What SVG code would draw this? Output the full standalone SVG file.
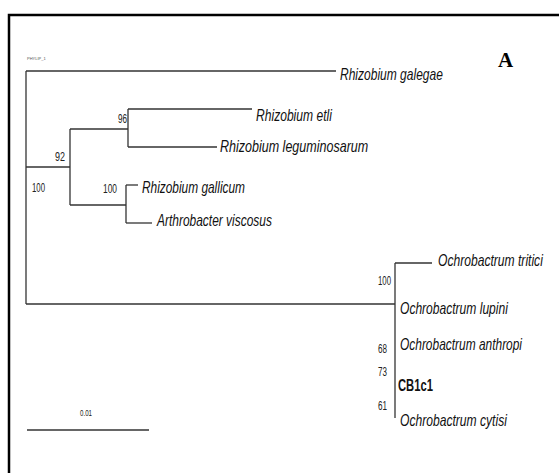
<svg xmlns="http://www.w3.org/2000/svg" width="559" height="473" viewBox="0 0 559 473">
<style>
.b{stroke:#333;stroke-width:1.3;fill:none}
.sp{font-family:"Liberation Sans",Arial,sans-serif;font-style:italic;font-size:16px;fill:#111}
.bs{font-family:"Liberation Sans",Arial,sans-serif;font-size:12px;fill:#222}
</style>
<rect width="559" height="473" fill="#fff"/>
<path d="M9,473 V15 H559" stroke="#000" stroke-width="2.5" fill="none"/>
<text x="27" y="60" font-family="Liberation Sans, sans-serif" font-size="4" fill="#555">PHYLIP_1</text>
<text x="498" y="67" font-family="Liberation Serif, serif" font-weight="bold" font-size="21" fill="#000">A</text>
<g id="connectors">
<path class="b" d="M26,71 V304"/>
<path class="b" d="M26,71 H336"/>
<path class="b" d="M26,167 H70"/>
<path class="b" d="M70,129 V205"/>
<path class="b" d="M70,129 H128"/>
<path class="b" d="M128,109 V147"/>
<path class="b" d="M128,109 H252"/>
<path class="b" d="M128,147 H217"/>
<path class="b" d="M70,205 H126"/>
<path class="b" d="M126,185 V223"/>
<path class="b" d="M126,185 H138"/>
<path class="b" d="M126,223 H152"/>
<path class="b" d="M26,304 H395"/>
<path class="b" d="M395,263 V418"/>
<path class="b" d="M395,263 H432"/>
</g>
<g id="n-galegae" transform="translate(340,80) scale(0.752,1)"><text class="sp">Rhizobium galegae</text></g>
<g id="n-etli" transform="translate(256,121) scale(0.756,1)"><text class="sp">Rhizobium etli</text></g>
<g id="n-leguminosarum" transform="translate(220,152) scale(0.783,1)"><text class="sp">Rhizobium leguminosarum</text></g>
<g id="n-gallicum" transform="translate(142,193) scale(0.743,1)"><text class="sp">Rhizobium gallicum</text></g>
<g id="n-arthrobacter" transform="translate(157,226) scale(0.748,1)"><text class="sp">Arthrobacter viscosus</text></g>
<g id="n-tritici" transform="translate(438,266) scale(0.757,1)"><text class="sp">Ochrobactrum tritici</text></g>
<g id="n-lupini" transform="translate(400,314) scale(0.754,1)"><text class="sp">Ochrobactrum lupini</text></g>
<g id="n-anthropi" transform="translate(400,350) scale(0.746,1)"><text class="sp">Ochrobactrum anthropi</text></g>
<g id="n-cb1c1" transform="translate(398,391) scale(0.66,1)"><text font-family="Liberation Sans, Arial, sans-serif" font-weight="bold" font-size="17" fill="#111">CB1c1</text></g>
<g id="n-cytisi" transform="translate(400,426) scale(0.757,1)"><text class="sp">Ochrobactrum cytisi</text></g>
<g id="bootstrap">
<text class="bs" x="32" y="192" textLength="13" lengthAdjust="spacingAndGlyphs">100</text>
<text class="bs" x="55" y="161" textLength="10" lengthAdjust="spacingAndGlyphs">92</text>
<text class="bs" x="118" y="123" textLength="9" lengthAdjust="spacingAndGlyphs">96</text>
<text class="bs" x="103" y="193" textLength="14" lengthAdjust="spacingAndGlyphs">100</text>
<text class="bs" x="378" y="285" textLength="13" lengthAdjust="spacingAndGlyphs">100</text>
<text class="bs" x="378" y="353" textLength="9" lengthAdjust="spacingAndGlyphs">68</text>
<text class="bs" x="378" y="376" textLength="9" lengthAdjust="spacingAndGlyphs">73</text>
<text class="bs" x="378" y="410" textLength="9" lengthAdjust="spacingAndGlyphs">61</text>
</g>
<g id="scale">
<path class="b" d="M27,430 H149"/>
<text x="80" y="416" font-family="Liberation Sans, sans-serif" font-size="9" fill="#222" textLength="12" lengthAdjust="spacingAndGlyphs">0.01</text>
</g>
</svg>
